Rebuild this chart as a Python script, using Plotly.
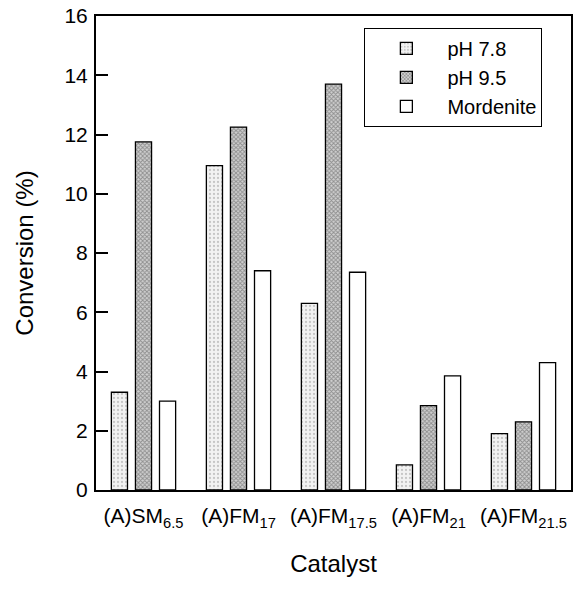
import plotly.graph_objects as go

categories = ["(A)SM<sub>6.5</sub>", "(A)FM<sub>17</sub>", "(A)FM<sub>17.5</sub>",
              "(A)FM<sub>21</sub>", "(A)FM<sub>21.5</sub>"]
ph78 = [3.3, 10.95, 6.3, 0.85, 1.9]
ph95 = [11.75, 12.25, 13.7, 2.85, 2.3]
mordenite = [3.0, 7.4, 7.35, 3.85, 4.3]
y_ticks = [0, 2, 4, 6, 8, 10, 12, 14, 16]

FONT = "Liberation Sans, Arial, sans-serif"

fig = go.Figure()
fig.add_trace(go.Bar(
    x=categories, y=ph78, name="pH 7.8",
    marker=dict(color="white", line=dict(color="black", width=1.3),
                pattern=dict(shape=".", fgcolor="#9a9a9a", bgcolor="#f2f2f2",
                             size=4, solidity=0.25)),
))
fig.add_trace(go.Bar(
    x=categories, y=ph95, name="pH 9.5",
    marker=dict(color="white", line=dict(color="black", width=1.3),
                pattern=dict(shape="x", fgcolor="#4a4a4a", bgcolor="#d0d0d0",
                             size=3, solidity=0.5)),
))
fig.add_trace(go.Bar(
    x=categories, y=mordenite, name="Mordenite",
    marker=dict(color="white", line=dict(color="black", width=1.3)),
))

fig.update_layout(
    width=585, height=594,
    margin=dict(l=96, r=14, t=16, b=104),
    paper_bgcolor="white", plot_bgcolor="white",
    barmode="group", bargap=0.24, bargroupgap=0.33,
    font=dict(family=FONT, size=21, color="black"),
    showlegend=True,
    legend=dict(x=0.565, y=0.975, xanchor="left", yanchor="top",
                bordercolor="black", borderwidth=1, bgcolor="white",
                font=dict(size=20), itemwidth=72,
                tracegroupgap=0),
    xaxis=dict(
        title=dict(text="Catalyst", font=dict(size=24), standoff=26),
        showline=True, linecolor="black", linewidth=2, mirror=True,
        ticks="", showgrid=False, tickfont=dict(size=21),
        ticklabelstandoff=6, automargin=False,
    ),
    yaxis=dict(
        title=dict(text="Conversion (%)", font=dict(size=24), standoff=24),
        range=[0, 16], tickvals=y_ticks,
        showline=True, linecolor="black", linewidth=2, mirror=True,
        ticks="inside", ticklen=12, tickwidth=2, tickcolor="black",
        showgrid=False, zeroline=False, tickfont=dict(size=21),
        ticklabelstandoff=2, automargin=False,
    ),
)

fig.write_html("out.html")
